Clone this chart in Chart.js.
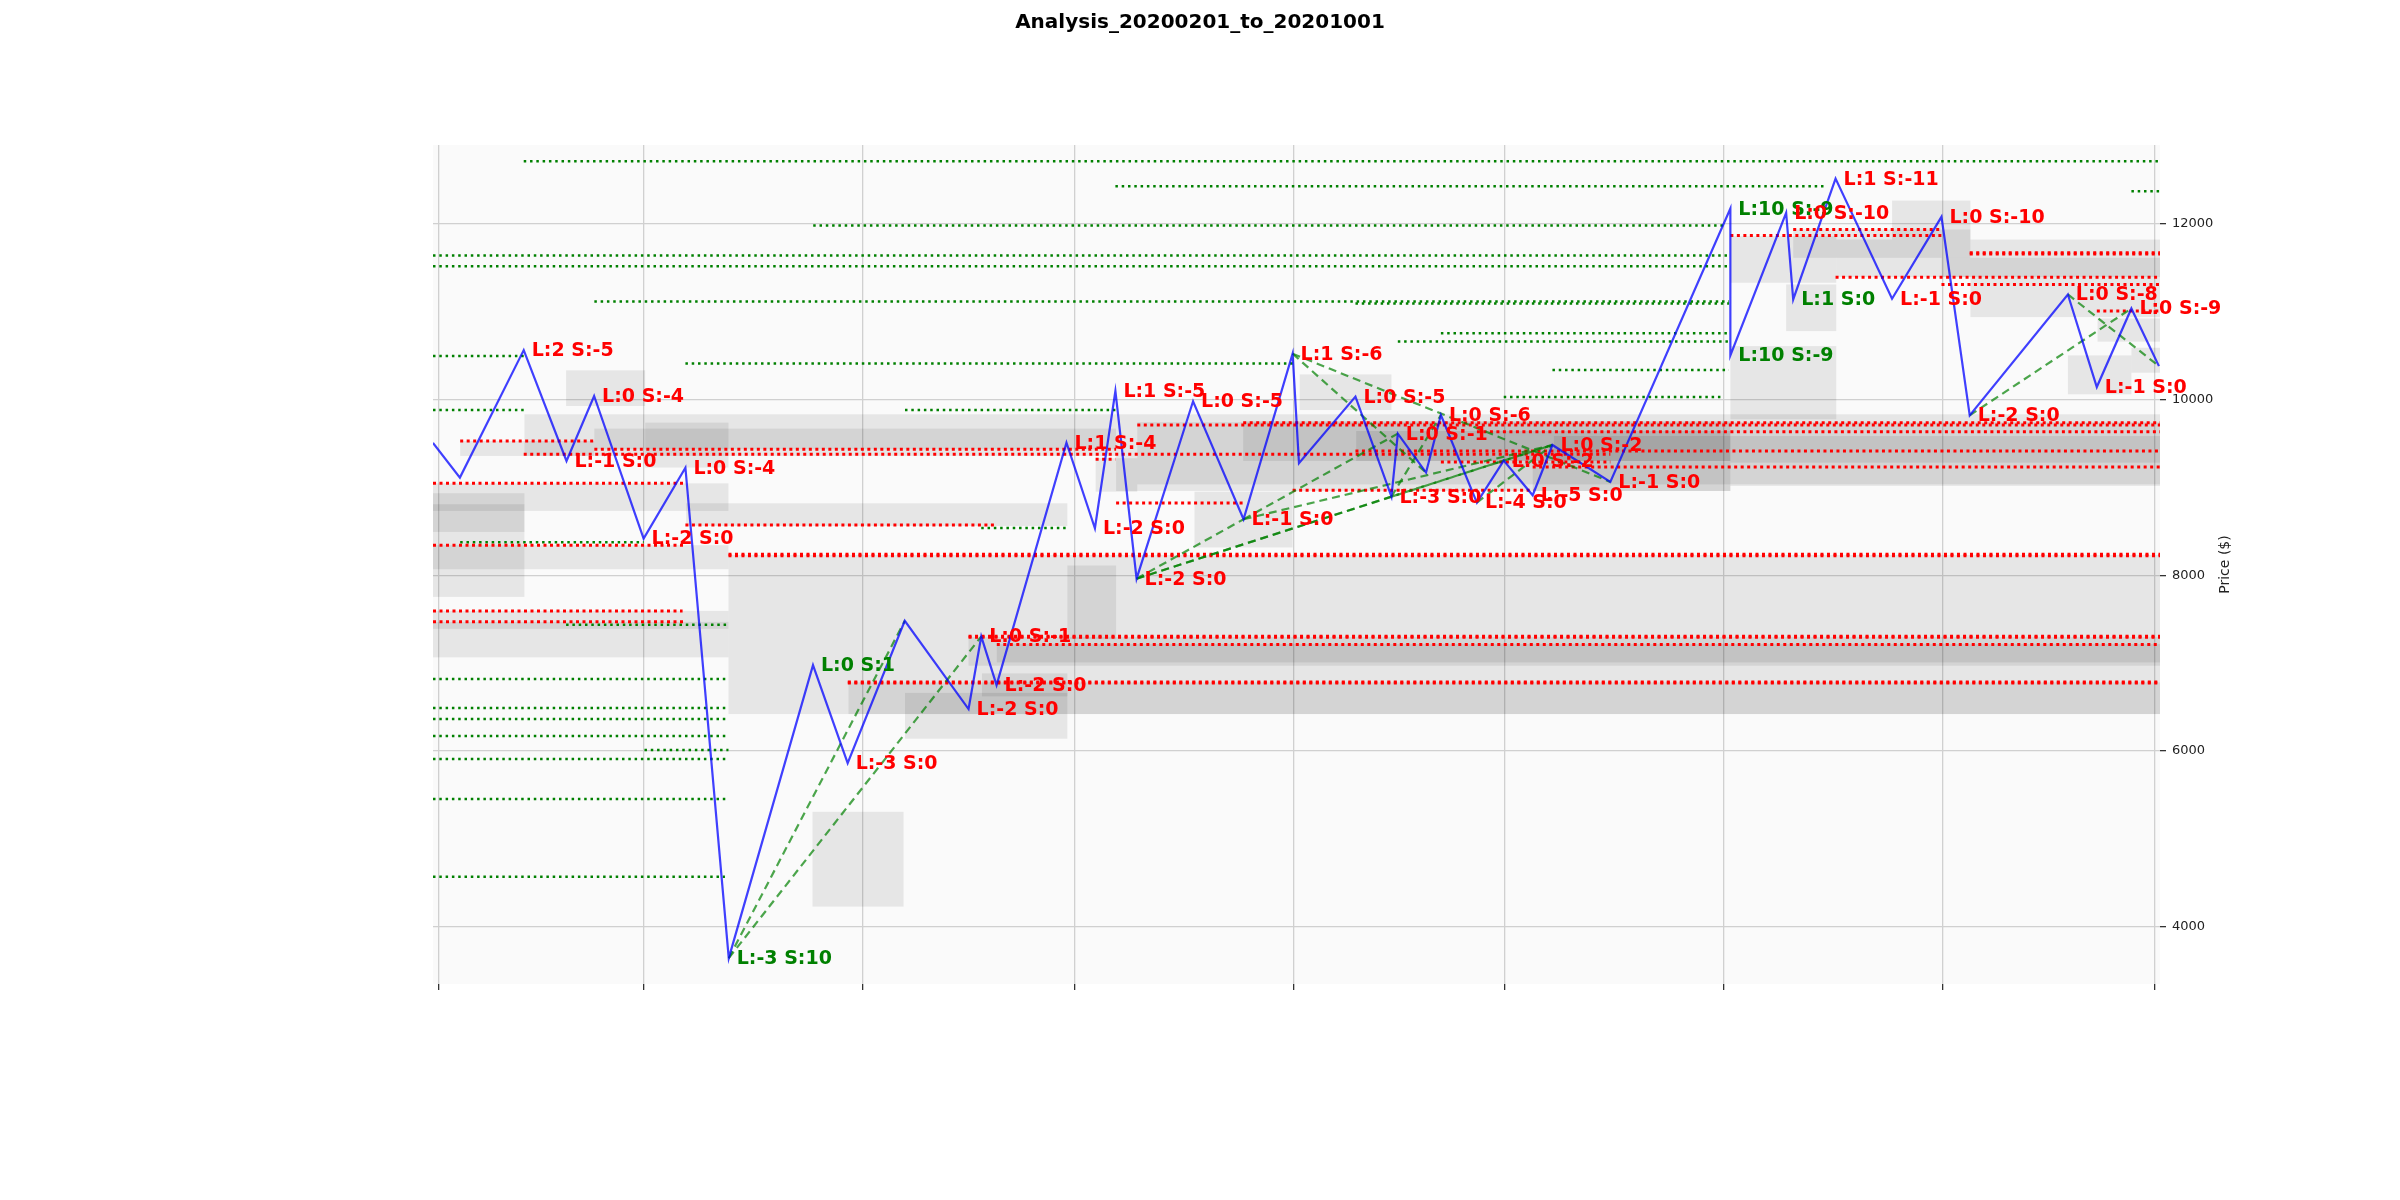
<!DOCTYPE html>
<html><head><meta charset="utf-8">
<script src="https://cdn.jsdelivr.net/npm/chart.js@4.4.0/dist/chart.umd.min.js"></script>
<style>html,body{margin:0;padding:0;background:#fff;}canvas{display:block;}</style>
</head><body>
<canvas id="c" width="2400" height="1200" style="width:2400px;height:1200px"></canvas>
<script>
// ---------------- data ----------------
const chartTitle = 'Analysis_20200201_to_20201001';
const yAxisTitle = 'Price ($)';
// x values are days since 2020-02-01
const monthTicks = [0, 29, 60, 90, 121, 151, 182, 213, 243];
const priceTicks = [4000, 6000, 8000, 10000, 12000];
const dayRange = [-0.85, 243.75];
const priceRange = [3350, 12893];

// zigzag pivots
const pivotDays = [-0.85, 2.96, 12.0, 18.06, 21.97, 28.98, 34.9, 41.04, 52.97, 57.88,
  65.97, 75.0, 76.8, 78.97, 88.87, 92.9, 95.8, 98.8, 106.8, 113.95,
  120.9, 121.8, 129.8, 134.9, 135.8, 139.8, 141.9, 147.0, 150.8, 154.9,
  157.7, 165.9, 182.9, 182.9, 190.8, 191.8, 197.8, 205.8, 212.8, 216.8,
  230.7, 234.8, 239.7, 243.6];
const pivotPrices = [9505, 9110, 10560, 9299, 10038, 8417, 9223, 3644, 6977, 5863,
  7481, 6477, 7303, 6750, 9508, 8534, 10094, 7960, 9978, 8636,
  10519, 9273, 10031, 8894, 9610, 9167, 9822, 8826, 9303, 8909,
  9481, 9061, 12170, 10500, 12122, 11136, 12511, 11144, 12076, 9818,
  11193, 10140, 11034, 10378];
const pivotL = [null, null, 2, -1, 0, -2, 0, -3, 0, -3,
  null, -2, 0, -2, 1, -2, 1, -2, 0, -1,
  1, null, 0, -3, 0, null, 0, -4, 0, -5,
  0, -1, 10, 10, 0, 1, 1, -1, 0, -2,
  0, -1, 0, null];
const pivotS = [null, null, -5, 0, -4, 0, -4, 10, 1, 0,
  null, 0, -1, 0, -4, 0, -5, 0, -5, 0,
  -6, null, -5, 0, -1, null, -6, 0, -2, 0,
  -2, 0, -9, -9, -10, 0, -11, 0, -10, 0,
  -8, 0, -9, null];

// green dotted levels
const greenLevels = [12708, 12424, 12367, 11977, 11636, 11515, 11114, 11090, 10753, 10659,
  10492, 10409, 10333, 10026, 9879, 9879, 8375, 8538, 7437, 6818,
  6489, 6364, 6170, 6011, 5909, 5454, 4571];
const greenFrom = [12.0, 95.8, 239.7, 53.0, -0.85, -0.85, 22.0, 129.8, 141.9, 135.8,
  -0.85, 34.9, 157.7, 150.8, -0.85, 66.0, 3.0, 76.8, 18.0, -0.85,
  -0.85, -0.85, -0.85, 29.1, -0.85, -0.85, -0.85];
const greenTo = [243.75, 196.5, 243.75, 182.0, 182.7, 182.7, 182.7, 182.7, 182.7, 182.7,
  12.0, 120.9, 182.7, 182.0, 12.0, 95.9, 29.0, 88.9, 41.0, 41.0,
  41.0, 41.0, 41.0, 41.0, 41.0, 41.0, 40.5];

// red dotted levels
const redLevels = [9526, 9432, 9375, 9045, 8572, 8341, 8237, 8222, 7594, 7469,
  7306, 7294, 7212, 6785, 6773, 9735, 9708, 9632, 9413, 9288,
  9231, 8966, 8822, 9318, 11932, 11864, 11668, 11652, 11390, 11307, 11004];
const redFrom = [3.0, 22.0, 12.0, -0.85, 34.9, -0.85, 41.0, 41.0, -0.85, -0.85,
  75.0, 75.0, 79.0, 57.9, 57.9, 113.9, 98.9, 147.0, 129.8, 141.9,
  154.9, 120.9, 95.9, 93.0, 191.8, 182.9, 216.8, 216.8, 197.8, 212.8, 234.8];
const redTo = [22.0, 95.9, 165.9, 34.9, 79.0, 34.9, 243.75, 243.75, 34.5, 35.0,
  243.75, 243.75, 243.75, 243.75, 243.75, 243.75, 243.75, 243.75, 243.75, 165.9,
  243.75, 155.0, 113.9, 95.8, 212.8, 212.8, 243.75, 243.75, 243.75, 243.75, 243.75];

// dashed trend lines, as pivot index pairs
const trendFrom = [7, 7, 17, 17, 17, 19, 19, 23, 23, 27, 20, 20, 39, 40];
const trendTo   = [10, 12, 19, 23, 30, 24, 30, 30, 26, 30, 25, 31, 42, 43];

// grey zones: day range and price range
const boxFrom = [18.0, 12.1, 22.0, 29.2, 3.0, -0.85, -0.85, -0.85, 35.0, -0.85,
  -0.85, -0.85, 41.0, 89.0, 75.0, 79.0, 76.9, 58.0, 66.0, 52.9,
  121.9, 95.9, 98.9, 113.9, 129.9, 107.0, 93.0, 154.9, 182.9, 190.8,
  182.9, 191.8, 197.9, 205.8, 216.9, 212.8, 230.7, 234.9, 239.7, 182.9, 157.9];
const boxTo = [29.2, 95.9, 95.9, 41.0, 22.0, 41.0, 12.1, 12.1, 89.0, 41.0,
  41.0, 41.0, 243.75, 95.9, 243.75, 243.75, 89.0, 243.75, 89.0, 65.8,
  134.9, 182.9, 243.75, 182.9, 182.9, 120.9, 98.9, 182.9, 197.9, 197.9,
  197.9, 216.9, 216.9, 216.9, 243.75, 243.75, 239.7, 243.75, 243.75, 243.75, 243.75];
const boxLow = [9924, 9356, 9432, 9224, 9356, 8731, 8492, 7753, 8560, 8068,
  7065, 7390, 6420, 7273, 6970, 7008, 6622, 6420, 6140, 4230,
  9878, 8958, 9033, 9299, 9299, 8315, 8950, 8958, 11326, 10776,
  9773, 11610, 11390, 11818, 10935, 11390, 10057, 10656, 10303, 9015, 9280];
const boxHigh = [10330, 9830, 9667, 9735, 9526, 9045, 8932, 8807, 8818, 8341,
  7594, 7469, 8230, 8110, 7295, 7216, 6883, 6780, 6661, 5309,
  10284, 9830, 9740, 9753, 9640, 8950, 9330, 9280, 11856, 11307,
  10606, 11932, 11818, 12261, 11818, 11610, 10500, 10920, 10587, 9830, 9583];

// ---------------- chart ----------------
Chart.defaults.font.family = 'DejaVu Sans';
const FONT = 'DejaVu Sans';

const datasets = [];
datasets.push({
  label: 'price',
  data: pivotDays.map((d, i) => ({x: d, y: pivotPrices[i]})),
  borderColor: 'rgba(0,0,255,0.75)', borderWidth: 2.2, pointRadius: 0, tension: 0, fill: false, order: 0
});
trendFrom.forEach((a, i) => {
  const b = trendTo[i];
  datasets.push({
    data: [{x: pivotDays[a], y: pivotPrices[a]}, {x: pivotDays[b], y: pivotPrices[b]}],
    borderColor: 'rgba(0,128,0,0.7)', borderWidth: 2.2, borderDash: [8, 5], pointRadius: 0, fill: false, order: 1
  });
});
redLevels.forEach((v, i) => {
  datasets.push({
    data: [{x: redFrom[i], y: v}, {x: redTo[i], y: v}],
    borderColor: '#ff0000', borderWidth: 3, borderDash: [3, 3.5], borderCapStyle: 'butt', pointRadius: 0, fill: false, order: 2
  });
});
greenLevels.forEach((v, i) => {
  datasets.push({
    data: [{x: greenFrom[i], y: v}, {x: greenTo[i], y: v}],
    borderColor: '#008000', borderWidth: 2.5, borderDash: [2.5, 3.8], borderCapStyle: 'butt', pointRadius: 0, fill: false, order: 3
  });
});

const decor = {
  id: 'decor',
  beforeDraw(chart) {
    const {ctx, chartArea: a} = chart;
    ctx.save();
    ctx.fillStyle = '#fafafa';
    ctx.fillRect(a.left, a.top, a.right - a.left, a.bottom - a.top);
    ctx.restore();
  },
  beforeDatasetsDraw(chart) {
    const {ctx, chartArea: a, scales: {x, y}} = chart;
    ctx.save();
    ctx.beginPath(); ctx.rect(a.left, a.top, a.right - a.left, a.bottom - a.top); ctx.clip();
    ctx.fillStyle = 'rgba(0,0,0,0.08)';
    boxFrom.forEach((f, i) => {
      const x0 = x.getPixelForValue(f), x1 = x.getPixelForValue(boxTo[i]);
      const y0 = y.getPixelForValue(boxHigh[i]), y1 = y.getPixelForValue(boxLow[i]);
      ctx.fillRect(x0, y0, x1 - x0, y1 - y0);
    });
    ctx.restore();
  },
  afterDatasetsDraw(chart) {
    const {ctx, scales: {x, y}} = chart;
    ctx.save();
    ctx.font = 'bold 19px "' + FONT + '"';
    ctx.textBaseline = 'middle';
    ctx.textAlign = 'left';
    pivotDays.forEach((d, i) => {
      if (pivotL[i] === null) return;
      const txt = 'L:' + pivotL[i] + ' S:' + pivotS[i];
      ctx.fillStyle = (pivotL[i] + pivotS[i] > 0) ? '#008000' : '#ff0000';
      ctx.fillText(txt, x.getPixelForValue(d) + 8, y.getPixelForValue(pivotPrices[i]) + 1);
    });
    ctx.restore();
  },
  afterDraw(chart) {
    const {ctx, chartArea: a, width} = chart;
    ctx.save();
    // figure title, centred on the whole canvas
    ctx.font = 'bold 20px "' + FONT + '"';
    ctx.fillStyle = '#000';
    ctx.textAlign = 'center';
    ctx.textBaseline = 'middle';
    ctx.fillText(chartTitle, width / 2, 23);
    // y axis title, reading bottom to top
    ctx.translate(2225, (a.top + a.bottom) / 2);
    ctx.rotate(-Math.PI / 2);
    ctx.font = '14px "' + FONT + '"';
    ctx.fillStyle = '#222';
    ctx.fillText(yAxisTitle, 0, 0);
    ctx.restore();
  }
};

new Chart(document.getElementById('c'), {
  type: 'line',
  data: {datasets},
  plugins: [decor],
  options: {
    responsive: false, animation: false, devicePixelRatio: 1, events: [],
    layout: {padding: {left: 433, right: 0, top: 145, bottom: 0}},
    plugins: {
      legend: {display: false}, tooltip: {enabled: false}, title: {display: false}
    },
    scales: {
      x: {
        type: 'linear', min: dayRange[0], max: dayRange[1],
        afterBuildTicks: s => { s.ticks = monthTicks.map(v => ({value: v})); },
        ticks: {callback: () => '', autoSkip: false, maxRotation: 0},
        grid: {color: '#d0d0d0', lineWidth: 1.3, tickLength: 6, tickColor: '#333', tickWidth: 1.3},
        border: {display: false},
        afterFit: s => { s.height = 216; }
      },
      y: {
        type: 'linear', position: 'right', min: priceRange[0], max: priceRange[1],
        afterBuildTicks: s => { s.ticks = priceTicks.map(v => ({value: v})); },
        ticks: {callback: v => String(v), color: '#222', font: {family: FONT, size: 13}, padding: 6},
        grid: {color: '#d0d0d0', lineWidth: 1.3, tickLength: 6, tickColor: '#333', tickWidth: 1.3},
        border: {display: false},
        afterFit: s => { s.width = 240; }
      }
    }
  }
});
</script>
</body></html>
